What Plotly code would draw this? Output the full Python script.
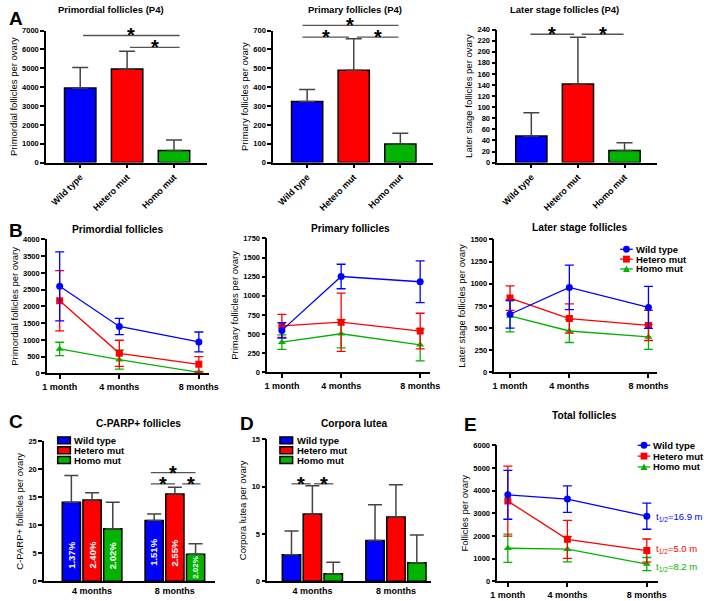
import plotly.graph_objects as go

W, H = 713, 601
FONT = 'Liberation Sans, Arial, Helvetica, sans-serif'

groups = ['Wild type', 'Hetero mut', 'Homo mut']
colors = ['#0000FF', '#FF0000', '#00B400']
symbols = ['circle', 'square', 'triangle-up']

# A: follicles per ovary at P4 (mean, SD)
p4_primordial = [3950, 4970, 640]
p4_primordial_sd = [1090, 935, 555]
p4_primary = [324, 490, 99]
p4_primary_sd = [63, 167, 57]
p4_later = [48, 142, 22]
p4_later_sd = [42, 84, 14]

# B: follicles per ovary by age
months = [1, 4, 8]
month_labels = ['1 month', '4 months', '8 months']
primordial_wt = [2600, 1400, 940]
primordial_wt_sd = [1030, 245, 295]
primordial_het = [2170, 600, 270]
primordial_het_sd = [900, 390, 230]
primordial_homo = [730, 410, 30]
primordial_homo_sd = [200, 280, 30]
primary_wt = [549, 1253, 1184]
primary_wt_sd = [100, 160, 272]
primary_het = [607, 656, 540]
primary_het_sd = [150, 380, 233]
primary_homo = [395, 505, 360]
primary_homo_sd = [95, 185, 210]
later_wt = [656, 959, 733]
later_wt_sd = [157, 252, 237]
later_het = [838, 607, 530]
later_het_sd = [139, 165, 170]
later_homo = [637, 467, 400]
later_homo_sd = [180, 130, 140]

# C: C-PARP+ follicles, D: corpora lutea
ages = ['4 months', '8 months']
cparp_wt = [14.1, 10.85]
cparp_wt_sd = [4.8, 1.15]
cparp_het = [14.5, 15.6]
cparp_het_sd = [1.3, 1.2]
cparp_homo = [9.4, 4.8]
cparp_homo_sd = [4.7, 1.9]
cparp_pct = [['1.37%', '1.51%'], ['2.40%', '2.55%'], ['2.02%', '2.02%']]
cl_wt = [2.8, 4.3]
cl_wt_sd = [2.5, 3.8]
cl_het = [7.1, 6.8]
cl_het_sd = [3.0, 3.4]
cl_homo = [0.8, 1.95]
cl_homo_sd = [1.2, 2.95]

# E: total follicles
total_wt = [3815, 3626, 2869]
total_wt_sd = [1080, 583, 576]
total_het = [3539, 1849, 1354]
total_het_sd = [1544, 838, 510]
total_homo = [1456, 1413, 757]
total_homo_sd = [620, 555, 290]
half_lives = ['16.9', '5.0', '8.2']


def fx(px):
    return px / W


def fy(py):
    return 1 - py / H


def xid(i):
    return 'x' if i == 1 else 'x%d' % i


def yid(i):
    return 'y' if i == 1 else 'y%d' % i


def dom(v, r):
    return (v - r[0]) / (r[1] - r[0])


fig = go.Figure()
shapes, annotations = [], []
layout_axes = {}

line_kw = dict(showline=True, linecolor='black', linewidth=1.5, showgrid=False, zeroline=False,
               ticks='outside', ticklen=4, tickwidth=1.5, tickcolor='black')
bold = dict(family=FONT, color='black', weight='bold')

# panel: x px span, y px span (top, bottom), x range, y range, dtick, y title
panels = {
    1: ((40, 205), (27, 161), [-0.73, 2.7], [0, 7000], 1000, 'Primordial follicles per ovary'),
    2: ((273, 437), (27, 161), [-0.73, 2.7], [0, 700], 100, 'Primary follicles per ovary'),
    3: ((503, 667), (26, 161), [-0.73, 2.7], [0, 240], 20, 'Later stage follicles per ovary'),
    4: ((41, 207), (239, 375), [0.36, 8.5], [0, 4000], 500, 'Primordial follicles per ovary'),
    5: ((267, 434), (238, 374), [0.26, 8.5], [0, 1750], 250, 'Primary follicles per ovary'),
    6: ((500, 667), (239, 374), [0.21, 8.44], [0, 1500], 250, 'Later stage follicles per ovary'),
    7: ((38, 213), (444, 586), [-0.58, 1.48], [0, 25], 5, 'C-PARP+ follicles per ovary'),
    8: ((267, 435), (442, 586), [-0.54, 1.42], [0, 15], 5, 'Corpora lutea per ovary'),
    9: ((503, 668), (448, 586), [0.47, 8.57], [0, 6000], 1000, 'Follicles per ovary'),
}

for i, (xs, ys, xr, yr, dt, ytitle) in panels.items():
    xa = dict(line_kw, domain=[fx(xs[0]), fx(xs[1])], range=xr, anchor=yid(i),
              tickfont=dict(bold, size=9))
    if i <= 3:
        xa.update(type='category', tickangle=-45)
    elif i in (7, 8):
        xa.update(type='category', ticks='')
    else:
        xa.update(tickmode='array', tickvals=months, ticktext=month_labels)
    ya = dict(line_kw, domain=[fy(ys[1]), fy(ys[0])], range=yr, dtick=dt, anchor=xid(i),
              tickfont=dict(bold, size=7.5),
              title=dict(text=ytitle, font=dict(family=FONT, size=9.5, color='black'), standoff=3))
    layout_axes['xaxis' if i == 1 else 'xaxis%d' % i] = xa
    layout_axes['yaxis' if i == 1 else 'yaxis%d' % i] = ya

# A: bar charts at P4
for i, (vals, sd) in zip([1, 2, 3], [(p4_primordial, p4_primordial_sd),
                                     (p4_primary, p4_primary_sd),
                                     (p4_later, p4_later_sd)]):
    fig.add_bar(x=groups, y=vals, width=0.67,
                marker=dict(color=colors, line=dict(color='black', width=1.5)),
                error_y=dict(type='data', array=sd, arrayminus=[0] * 3, symmetric=False,
                             color='#444444', thickness=1.5, width=8),
                xaxis=xid(i), yaxis=yid(i), showlegend=False)

# B and E: time courses
time_series = {
    4: [(primordial_wt, primordial_wt_sd), (primordial_het, primordial_het_sd), (primordial_homo, primordial_homo_sd)],
    5: [(primary_wt, primary_wt_sd), (primary_het, primary_het_sd), (primary_homo, primary_homo_sd)],
    6: [(later_wt, later_wt_sd), (later_het, later_het_sd), (later_homo, later_homo_sd)],
    9: [(total_wt, total_wt_sd), (total_het, total_het_sd), (total_homo, total_homo_sd)],
}
for i, series in time_series.items():
    for g in [2, 1, 0]:
        vals, sd = series[g]
        fig.add_scatter(x=months, y=vals, mode='lines+markers', name=groups[g],
                        line=dict(color=colors[g], width=1.3),
                        marker=dict(symbol=symbols[g], size=7, color=colors[g]),
                        error_y=dict(type='data', array=sd, color=colors[g], thickness=1.3, width=4.5),
                        xaxis=xid(i), yaxis=yid(i), showlegend=False)

# C and D: grouped bars
grouped = {
    7: [(cparp_wt, cparp_wt_sd), (cparp_het, cparp_het_sd), (cparp_homo, cparp_homo_sd)],
    8: [(cl_wt, cl_wt_sd), (cl_het, cl_het_sd), (cl_homo, cl_homo_sd)],
}
for i, series in grouped.items():
    for g in range(3):
        vals, sd = series[g]
        fig.add_bar(x=ages, y=vals, name=groups[g],
                    marker=dict(color=colors[g], line=dict(color='black', width=1.5)),
                    error_y=dict(type='data', array=sd, arrayminus=[0, 0], symmetric=False,
                                 color='#444444', thickness=1.5, width=7),
                    xaxis=xid(i), yaxis=yid(i), showlegend=False)

# percentages written inside C bars
pct_y = [[4.6, 5.1], [4.6, 5.1], [4.6, 2.5]]
pct_size = [[9.5, 9.5], [9.5, 9.5], [9.5, 8]]
for g in range(3):
    for k in range(2):
        annotations.append(dict(xref='x7', yref='y7', x=k + (g - 1) * 0.25, y=pct_y[g][k],
                                xanchor='center', yanchor='middle',
                                text=cparp_pct[g][k], textangle=-90, showarrow=False,
                                font=dict(bold, size=pct_size[g][k], color='white')))

# significance bars: (x0, x1, y) in data units
sig_marks = {
    1: [(0.06, 2.12, 6740), (1.06, 2.12, 6110)],
    2: [(-0.1, 1.96, 728), (-0.1, 0.9, 665), (1.07, 1.96, 665)],
    3: [(-0.02, 0.92, 231.6), (1.08, 1.98, 231.6)],
    7: [(0.71, 1.25, 19.4), (0.71, 1.0, 17.4), (1.09, 1.31, 17.4)],
    8: [(-0.25, -0.02, 10.3), (0.02, 0.25, 10.3)],
}
for i, marks in sig_marks.items():
    xr, yr = panels[i][2], panels[i][3]
    xref, yref = xid(i) + ' domain', yid(i) + ' domain'
    for x0, x1, y in marks:
        shapes.append(dict(type='line', xref=xref, yref=yref, x0=dom(x0, xr), x1=dom(x1, xr),
                           y0=dom(y, yr), y1=dom(y, yr), line=dict(color='#555555', width=1.3)))
        annotations.append(dict(xref=xref, yref=yref, x=dom((x0 + x1) / 2, xr), y=dom(y, yr),
                                text='*', showarrow=False, xanchor='center', yanchor='middle',
                                font=dict(bold, size=20)))

# half-lives in E
half_y = [2826, 1435, 609]
for g in range(3):
    annotations.append(dict(xref='x9', yref='y9', x=8.35, y=half_y[g], xanchor='left', yanchor='middle',
                            text='t<sub>1/2</sub>=%s m' % half_lives[g], showarrow=False,
                            font=dict(family=FONT, size=9.5, color=colors[g])))

# panel titles and letters
titles = [
    ('Primordial follicles (P4)', 107, 6, 9.5), ('Primary follicles (P4)', 357, 6, 9.5),
    ('Later stage follicles (P4)', 572, 6, 9.5),
    ('Primordial follicles', 113, 229, 10.2), ('Primary follicles', 352, 228, 10.2),
    ('Later stage follicles', 587, 227, 10.2),
    ('C-PARP+ follicles', 135, 426, 10.2), ('Corpora lutea', 357, 426, 10.2),
    ('Total follicles', 592, 418, 10.2),
]
for text, x, y, size in titles:
    annotations.append(dict(xref='paper', yref='paper', x=fx(x), y=fy(y), text=text,
                            xanchor='center', yanchor='middle',
                            showarrow=False, font=dict(bold, size=size)))
for text, x, y in [('A', 9, 15), ('B', 9, 230), ('C', 9, 424), ('D', 246, 426), ('E', 476, 427)]:
    annotations.append(dict(xref='paper', yref='paper', x=fx(x), y=fy(y), text=text,
                            xanchor='center', yanchor='middle',
                            showarrow=False, font=dict(bold, size=19)))


# hand-drawn legends (compact spacing)
def bar_legend(x_box, rows, x_text):
    for g, yc in enumerate(rows):
        shapes.append(dict(type='rect', xref='paper', yref='paper', x0=fx(x_box), x1=fx(x_box + 13),
                           y0=fy(yc + 3.5), y1=fy(yc - 3.5), fillcolor=colors[g],
                           line=dict(color='black', width=1.5)))
        annotations.append(dict(xref='paper', yref='paper', x=fx(x_text), y=fy(yc), text=groups[g],
                                xanchor='left', yanchor='middle', showarrow=False,
                                font=dict(bold, size=9.5)))


def line_legend(x0, rows):
    for g, yc in enumerate(rows):
        cx = x0 + 6.5
        shapes.append(dict(type='line', xref='paper', yref='paper', x0=fx(x0), x1=fx(x0 + 13),
                           y0=fy(yc), y1=fy(yc), line=dict(color=colors[g], width=1.3)))
        if g == 0:
            shapes.append(dict(type='circle', xref='paper', yref='paper', x0=fx(cx - 3.5), x1=fx(cx + 3.5),
                               y0=fy(yc + 3.5), y1=fy(yc - 3.5), fillcolor=colors[g], line=dict(width=0)))
        elif g == 1:
            shapes.append(dict(type='rect', xref='paper', yref='paper', x0=fx(cx - 3.5), x1=fx(cx + 3.5),
                               y0=fy(yc + 3.5), y1=fy(yc - 3.5), fillcolor=colors[g], line=dict(width=0)))
        else:
            path = 'M %f,%f L %f,%f L %f,%f Z' % (fx(cx - 3.5), fy(yc + 3), fx(cx + 3.5), fy(yc + 3),
                                                  fx(cx), fy(yc - 3.5))
            shapes.append(dict(type='path', xref='paper', yref='paper', path=path,
                               fillcolor=colors[g], line=dict(width=0)))
        annotations.append(dict(xref='paper', yref='paper', x=fx(x0 + 14), y=fy(yc), text=groups[g],
                                xanchor='left', yanchor='middle', showarrow=False,
                                font=dict(bold, size=9.5)))


bar_legend(52, [443, 453, 463], 67)
bar_legend(280, [443, 453, 463], 295)
line_legend(629, [249, 259, 269])
line_legend(647, [448, 459, 470])

fig.update_layout(
    width=W, height=H, margin=dict(l=0, r=0, t=0, b=0),
    paper_bgcolor='white', plot_bgcolor='white',
    font=dict(family=FONT, color='black'),
    barmode='group', bargap=0.25, bargroupgap=0.12,
    showlegend=False, shapes=shapes, annotations=annotations,
    **layout_axes
)

# the page body has a default margin; remove it so the figure sits at the window origin
fig.write_html('out.html', config={'displayModeBar': False},
               post_script="document.body.style.margin='0px';")
